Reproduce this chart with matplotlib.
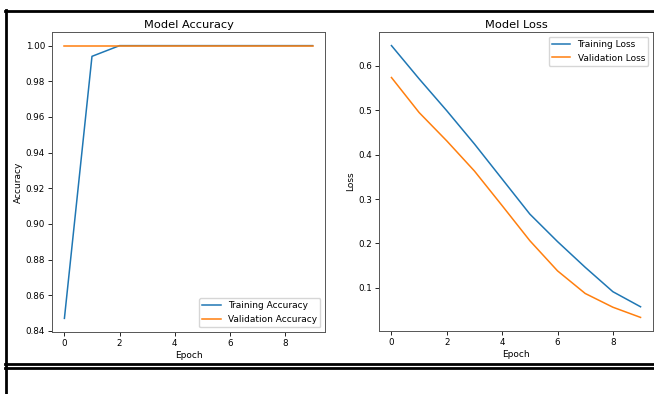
import numpy as np
import matplotlib
matplotlib.use('Agg')
import matplotlib.pyplot as plt
from matplotlib.lines import Line2D

epochs = [0, 1, 2, 3, 4, 5, 6, 7, 8, 9]
train_acc = [0.847, 0.994, 1.0, 1.0, 1.0, 1.0, 1.0, 1.0, 1.0, 1.0]
val_acc = [1.0, 1.0, 1.0, 1.0, 1.0, 1.0, 1.0, 1.0, 1.0, 1.0]
train_loss = [0.646, 0.571, 0.499, 0.424, 0.345, 0.266, 0.204, 0.146, 0.091, 0.057]
val_loss = [0.574, 0.495, 0.431, 0.363, 0.285, 0.206, 0.138, 0.087, 0.056, 0.033]

W, H = 654, 394
fig = plt.figure(figsize=(W / 100, H / 100), dpi=100)

fs_tick = 6.3
fs_lab = 6.5
fs_title = 8.2

acc_ax = fig.add_axes([52 / W, 1 - 332 / H, 273 / W, 300 / H])
loss_ax = fig.add_axes([379 / W, 1 - 331 / H, 274 / W, 299 / H])

acc_ax.plot(epochs, train_acc, label='Training Accuracy', lw=1.1)
acc_ax.plot(epochs, val_acc, label='Validation Accuracy', lw=1.1)
acc_ax.set_title('Model Accuracy', fontsize=fs_title, pad=3)
acc_ax.set_xlabel('Epoch', fontsize=fs_lab, labelpad=2)
acc_ax.set_ylabel('Accuracy', fontsize=fs_lab, labelpad=2)
acc_ax.legend(loc='lower right', fontsize=fs_lab)

loss_ax.plot(epochs, train_loss, label='Training Loss', lw=1.1)
loss_ax.plot(epochs, val_loss, label='Validation Loss', lw=1.1)
loss_ax.set_title('Model Loss', fontsize=fs_title, pad=3)
loss_ax.set_xlabel('Epoch', fontsize=fs_lab, labelpad=2)
loss_ax.set_ylabel('Loss', fontsize=fs_lab, labelpad=2)
loss_ax.legend(loc='upper right', fontsize=fs_lab)

for ax in (acc_ax, loss_ax):
    ax.tick_params(labelsize=fs_tick, length=3, width=0.6, pad=2)
    ax.set_xticks([0, 2, 4, 6, 8])
    for s in ax.spines.values():
        s.set_linewidth(0.7)
        s.set_color('#555555')

# black frame lines around the screenshot
def hline(y, x0, x1, lw=2.0):
    fig.add_artist(Line2D([x0 / W, x1 / W], [1 - y / H, 1 - y / H], color='black', lw=lw, transform=fig.transFigure))

def vline(x, y0, y1, lw=2.0):
    fig.add_artist(Line2D([x / W, x / W], [1 - y0 / H, 1 - y1 / H], color='black', lw=lw, transform=fig.transFigure))

hline(10.5, 5, W + 2)
vline(6, 10, H + 2)
hline(364, 5, W + 2)
hline(368, 5, W + 2)

fig.savefig('out.png', dpi=100)
